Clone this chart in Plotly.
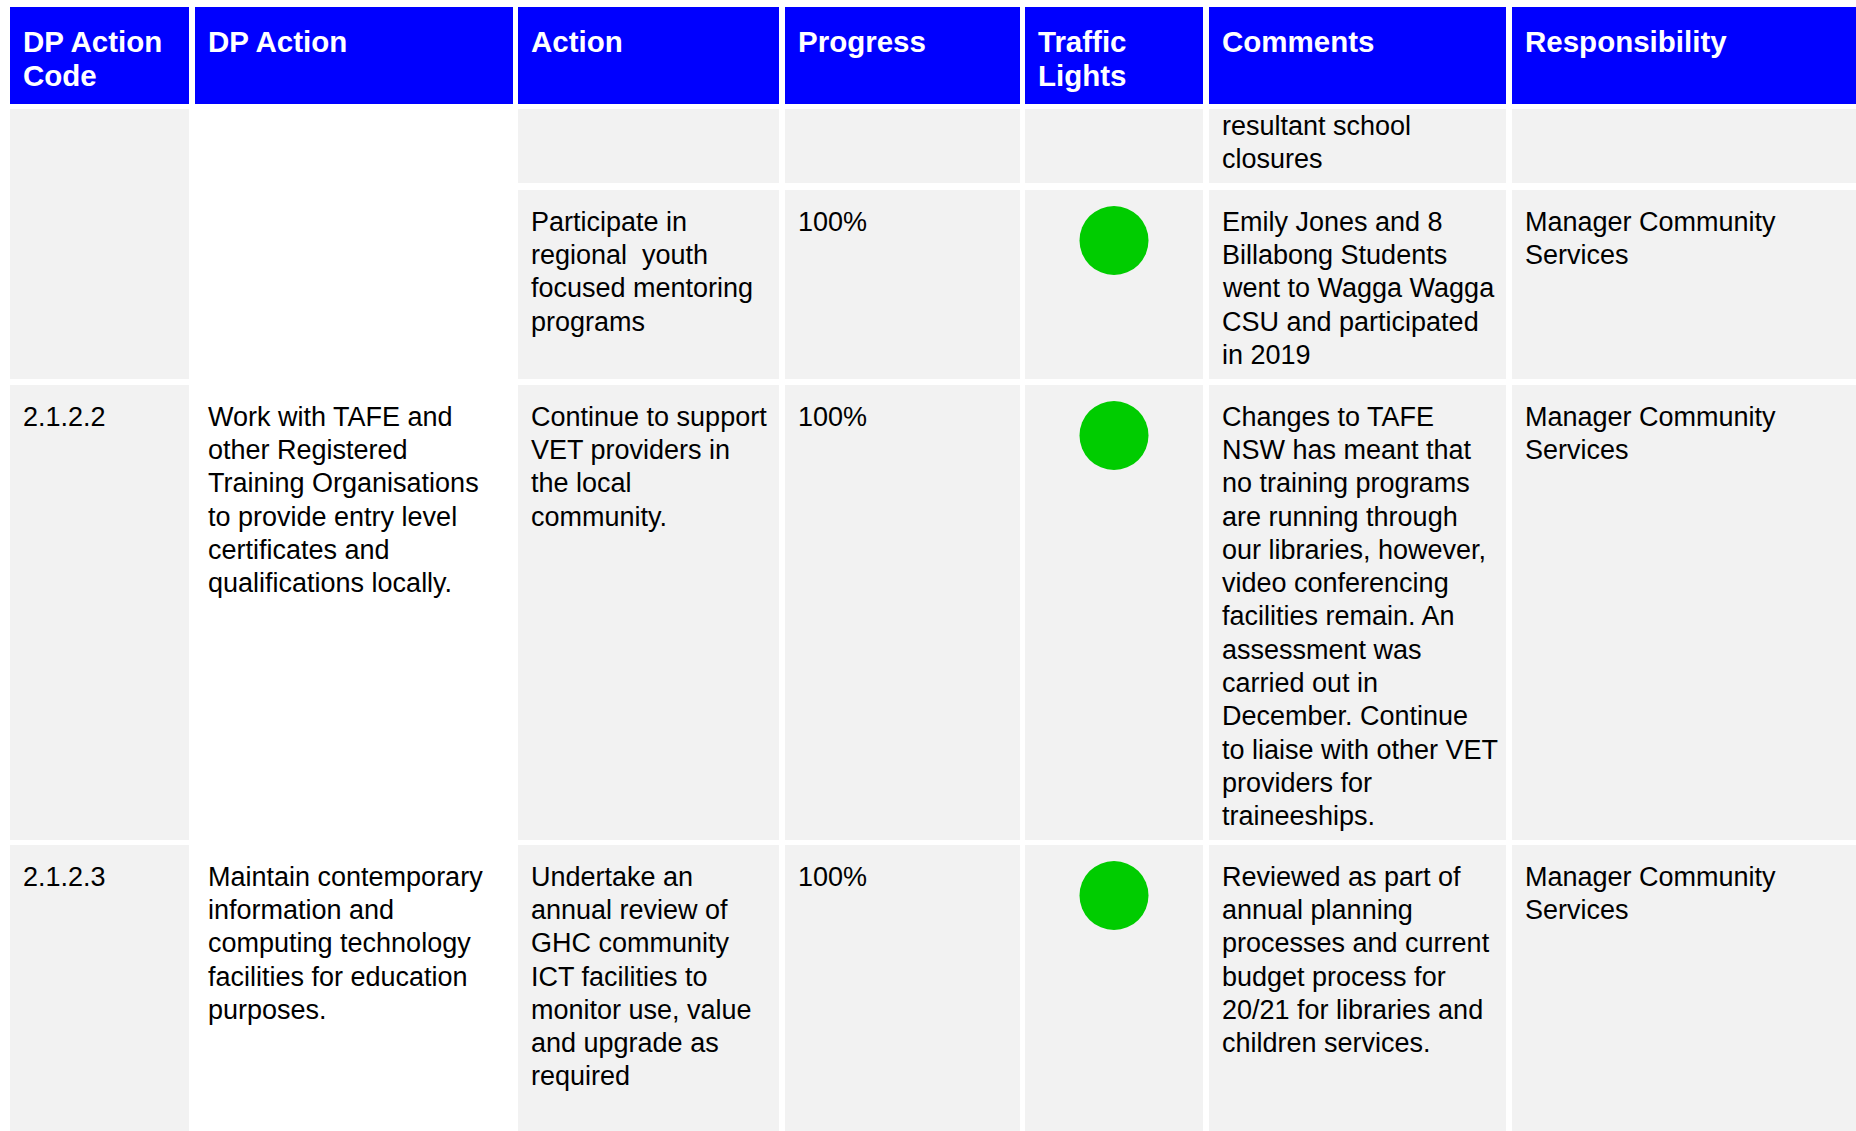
import plotly.graph_objects as go

# ---------------- DATA ----------------
headers = [["DP Action", "Code"], ["DP Action"], ["Action"], ["Progress"],
           ["Traffic", "Lights"], ["Comments"], ["Responsibility"]]

codes = [[], [], ["2.1.2.2"], ["2.1.2.3"]]
dp_actions = [[], [],
              ["Work with TAFE and", "other Registered", "Training Organisations",
               "to provide entry level", "certificates and", "qualifications locally."],
              ["Maintain contemporary", "information and", "computing technology",
               "facilities for education", "purposes."]]
actions = [[],
           ["Participate in", "regional\u00a0 youth", "focused mentoring", "programs"],
           ["Continue to support", "VET providers in", "the local", "community."],
           ["Undertake an", "annual review of", "GHC community", "ICT facilities to",
            "monitor use, value", "and upgrade as", "required"]]
progress = [[], ["100%"], ["100%"], ["100%"]]
traffic = [None, "green", "green", "green"]
comments = [["resultant school", "closures"],
            ["Emily Jones and 8", "Billabong Students", "went to Wagga Wagga",
             "CSU and participated", "in 2019"],
            ["Changes to TAFE", "NSW has meant that", "no training programs",
             "are running through", "our libraries, however,", "video conferencing",
             "facilities remain. An", "assessment was", "carried out in",
             "December. Continue", "to liaise with other VET", "providers for",
             "traineeships."],
            ["Reviewed as part of", "annual planning", "processes and current",
             "budget process for", "20/21 for libraries and", "children services."]]
responsibility = [[], ["Manager Community", "Services"],
                  ["Manager Community", "Services"], ["Manager Community", "Services"]]

# ---------------- LAYOUT ----------------
W, H = 1856, 1131
col_l = [10, 195, 518, 785, 1025, 1209, 1512]
col_r = [189, 513, 779, 1020, 1203, 1506, 1860]
head_t, head_b = 7, 104
row_t = [109, 190, 385, 845]
row_b = [183, 379, 840, 1140]
first_base = [26, 41, 41, 41]

BLUE = "#0000FF"
GREY = "#F2F2F2"
GREEN = "#00CC00"
FONT = "Arial, Liberation Sans, sans-serif"
BODY = 27
HEAD = 29.5
LS_BODY = 33.3
LS_HEAD = 34.4
PAD = 11

shapes = []
annotations = []

def rect(x0, y0, x1, y1, color):
    shapes.append(dict(type="rect", xref="x", yref="y", x0=x0, x1=x1, y0=y0, y1=y1,
                       fillcolor=color, line=dict(width=0), layer="below"))

def lines_at(lines, x, base, ls, size, color, bold=False):
    for i, t in enumerate(lines):
        b = base + i * ls
        annotations.append(dict(
            x=x, y=b - 0.3465 * size, xref="x", yref="y", text=t, showarrow=False,
            xanchor="left", yanchor="middle", align="left",
            font=dict(family=FONT, size=size, color=color,
                      weight="bold" if bold else "normal")))

# header
for c in range(7):
    rect(col_l[c], head_t, col_r[c], head_b, BLUE)
    lines_at(headers[c], col_l[c] + PAD, head_t + 44.7, LS_HEAD, HEAD, "white", True)

# body cells
for c in range(7):
    if c == 1:
        continue  # DP Action column stays white
    if c == 0:
        rect(col_l[c], row_t[0], col_r[c], row_b[1], GREY)  # merged cell
        for r in (2, 3):
            rect(col_l[c], row_t[r], col_r[c], row_b[r], GREY)
    else:
        for r in range(4):
            rect(col_l[c], row_t[r], col_r[c], row_b[r], GREY)

columns = [codes, dp_actions, actions, progress, None, comments, responsibility]
for c, data in enumerate(columns):
    if data is None:
        continue
    for r in range(4):
        lines_at(data[r], col_l[c] + PAD, row_t[r] + first_base[r], LS_BODY, BODY, "black")

# traffic lights
tx, ty, tc = [], [], []
for r, s in enumerate(traffic):
    if s:
        tx.append((col_l[4] + col_r[4]) / 2)
        ty.append(row_t[r] + 50.5)
        tc.append(GREEN if s == "green" else s)

fig = go.Figure()
fig.add_trace(go.Scatter(x=tx, y=ty, mode="markers",
                         marker=dict(size=69, color=tc, line=dict(width=0)),
                         hoverinfo="skip", showlegend=False, cliponaxis=True))

fig.update_layout(
    width=W, height=H, margin=dict(l=0, r=0, t=0, b=0),
    paper_bgcolor="white", plot_bgcolor="white",
    xaxis=dict(range=[0, W], visible=False, fixedrange=True),
    yaxis=dict(range=[H, 0], visible=False, fixedrange=True),
    shapes=shapes, annotations=annotations, showlegend=False,
)
fig.write_html("out.html",
               config={"displayModeBar": False},
               post_script="document.body.style.margin='0';"
                           "document.body.style.overflow='hidden';")
